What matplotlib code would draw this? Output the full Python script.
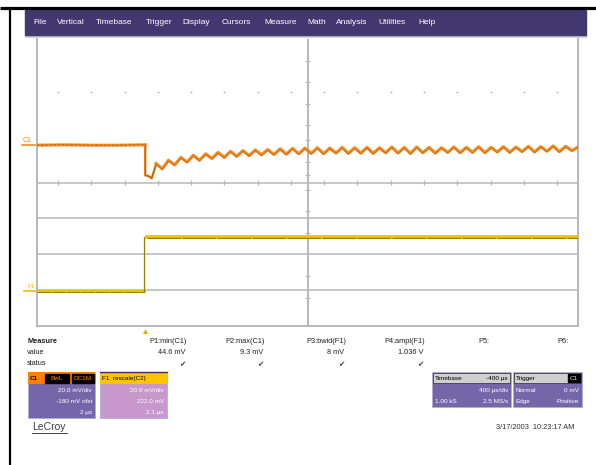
import numpy as np
import matplotlib.pyplot as plt
from matplotlib.patches import Rectangle
from matplotlib import transforms

plt.rcParams['font.family'] = ['Liberation Sans', 'DejaVu Sans']

# -------------------------------
# data (time and volts in divisions)
# -------------------------------
menu_items = ["File", "Vertical", "Timebase", "Trigger", "Display", "Cursors",
              "Measure", "Math", "Analysis", "Utilities", "Help"]
menu_x = [33, 57, 96, 146, 182, 222, 264, 307, 336, 378, 418]

# C1 (orange) before the step
c1_pre_t = [0.0, 0.5, 1.0, 1.5, 2.0]
c1_pre_v = [5.04, 5.05, 5.04, 5.04, 5.05]
# the step and the undershoot
c1_step_t = [2.0, 2.0, 2.06, 2.12, 2.2]
c1_step_v = [5.05, 4.2, 4.18, 4.12, 4.5]
# ripple after the step, peaks and troughs one half period apart
c1_ripple = [4.53, 4.38, 4.62, 4.49, 4.70, 4.57, 4.76, 4.62, 4.80, 4.67,
             4.84, 4.70, 4.87, 4.73, 4.89, 4.75, 4.91, 4.77, 4.92, 4.78,
             4.94, 4.79, 4.95, 4.80, 4.96, 4.81, 4.97, 4.80, 4.96, 4.82,
             4.98, 4.81, 4.97, 4.82, 4.98, 4.81, 4.97, 4.83, 4.99, 4.82,
             4.98, 4.81, 4.99, 4.83, 4.98, 4.82, 4.97, 4.84, 4.99, 4.83,
             4.98, 4.84, 5.00, 4.83, 4.98, 4.85, 5.00, 4.84, 4.99, 4.86,
             5.01, 4.85, 5.00, 4.87, 5.02, 4.86, 5.01, 4.89, 4.99]
c1_ripple_start, c1_ripple_end = 2.2, 10.0

# F1 (yellow)
f1_low_t = [0.0, 1.98]
f1_low_v = [0.98, 0.98]
f1_step_t = [1.98, 1.98]
f1_step_v = [0.98, 2.49]
f1_high_t = [2.03, 10.0]
f1_high_v = [2.49, 2.49]
trigger_t = 2.0

measure_names = ["P1:min(C1)", "P2:max(C1)", "P3:bwid(F1)", "P4:ampl(F1)", "P5:", "P6:"]
measure_values = ["44.6 mV", "9.3 mV", "8 mV", "1.036 V", "", ""]
measure_status = ["\u2714", "\u2714", "\u2714", "\u2714", "", ""]
measure_x = [187, 265, 346, 425, 489, 568]

c1_head = "C1"
c1_rows = ["20.0 mV/div", "-180 mV ofst", "2 \u00b5s"]
f1_head = "F1  rescale(C2)"
f1_rows = ["20.0 mV/div", "222.0 mV", "2.1 \u00b5s"]
tb_head = ["Timebase", "-400 \u00b5s"]
tb_rows = [("", "400 \u00b5s/div"), ("1.00 kS", "2.5 MS/s")]
trig_head = ["Trigger", "C1"]
trig_rows = [("Normal", "0 mV"), ("Edge", "Positive")]
date_text = "3/17/2003  10:23:17 AM"

# -------------------------------
# figure and screen chrome (pixel coordinates)
# -------------------------------
W, H = 596, 465
fig = plt.figure(figsize=(W / 100, H / 100), dpi=100)
fig.patch.set_facecolor("white")
bg = fig.add_axes([0, 0, 1, 1])
bg.set_xlim(0, W)
bg.set_ylim(H, 0)
bg.axis("off")

bg.plot([0, W], [8.5, 8.5], color="black", lw=2.3, solid_capstyle="butt")
bg.plot([10, 10], [8.5, H], color="black", lw=1.6, solid_capstyle="butt")

bg.add_patch(Rectangle((25, 10), 561, 26, color="#42376f"))
bg.plot([25, 586], [36, 36], color="#aaa3cc", lw=0.8)
for name, mx in zip(menu_items, menu_x):
    bg.text(mx, 23, name, color="white", fontsize=6, va="center", ha="left")

# -------------------------------
# scope grid
# -------------------------------
ax = fig.add_axes([37 / W, (H - 326) / H, 541 / W, 287 / H])
ax.set_xlim(0, 10)
ax.set_ylim(0, 8)
ax.set_xticks([])
ax.set_yticks([])
ax.spines["top"].set_visible(False)
for s in ["left", "right", "bottom"]:
    ax.spines[s].set_color("#b8b8b8")
    ax.spines[s].set_linewidth(1.4)

grid_c = "#b8b8b8"
for gy in [1, 2, 3, 4]:
    ax.axhline(gy, color=grid_c, lw=1.1)
ax.axvline(5, color=grid_c, lw=1.4)

dot_x = 0.388 + 0.615 * np.arange(16)
ax.plot(dot_x, np.full(len(dot_x), 6.52), ls="none", marker="s", ms=1.1,
        color="#b0b0b0", mec="none")
ax.vlines(dot_x, 3.94, 4.07, color=grid_c, lw=0.9)
center_ticks = [0.78, 1.39, 2.6, 3.2, 3.8, 4.2, 4.57, 5.18, 5.6, 6.2, 6.8, 7.4]
ax.hlines(center_ticks, 4.95, 5.05, color=grid_c, lw=0.8)

# -------------------------------
# traces
# -------------------------------
orange = "#f68a1e"
brown = "#8c4a0c"
ripple_t = np.linspace(c1_ripple_start, c1_ripple_end, len(c1_ripple))

ax.plot(c1_pre_t, c1_pre_v, color=orange, lw=2.2, zorder=4)
ax.plot(c1_pre_t, c1_pre_v, color=brown, lw=0.6, ls=(0, (3, 2)), alpha=0.7, zorder=5)
ax.plot(c1_step_t, c1_step_v, color=orange, lw=1.8, zorder=4)
ax.plot(c1_step_t, c1_step_v, color=brown, lw=0.6, alpha=0.8, zorder=5)
ax.plot(ripple_t, c1_ripple, color=orange, lw=2.2, zorder=4)
ax.plot(ripple_t, np.array(c1_ripple) - 0.02, color=brown, lw=0.45, alpha=0.55, zorder=5)

yellow = "#efbd00"
olive = "#9a7c00"
ax.plot(f1_low_t, f1_low_v, color=yellow, lw=2.2, zorder=4)
ax.plot(f1_low_t, np.array(f1_low_v) - 0.02, color=olive, lw=0.7, ls=(0, (14, 1)), zorder=5)
ax.plot(f1_step_t, f1_step_v, color=olive, lw=0.9, zorder=4)
ax.plot(f1_high_t, f1_high_v, color=yellow, lw=2.6, zorder=4)
ax.plot(f1_high_t, np.array(f1_high_v) - 0.03, color=olive, lw=0.8, ls=(0, (30, 1.5)), zorder=5)

ax.plot([trigger_t], [-0.14], marker="^", ms=3.5, color="#f0a800", mec="none", clip_on=False)

# trace labels left of the grid
lab = transforms.blended_transform_factory(fig.transFigure, ax.transData)
ax.text(23 / W, 5.08, "C1", transform=lab, color=orange, fontsize=5, va="bottom", ha="left")
ax.plot([22 / W, 37 / W], [c1_pre_v[0]] * 2, transform=lab, color=orange, lw=1.2, clip_on=False)
ax.text(27 / W, 1.02, "F1", transform=lab, color=yellow, fontsize=4.5, va="bottom", ha="left")
ax.plot([24 / W, 37 / W], [f1_low_v[0]] * 2, transform=lab, color=yellow, lw=1.2, clip_on=False)

# -------------------------------
# measurement table
# -------------------------------
fs = 5.3
bg.text(27, 341, "Measure", fontsize=fs, va="center", fontweight="bold", color="#202020")
bg.text(27, 352, "value", fontsize=fs, va="center", color="#202020")
bg.text(27, 363, "status", fontsize=fs, va="center", color="#202020")
for name, val, st, mx in zip(measure_names, measure_values, measure_status, measure_x):
    bg.text(mx, 341, name, fontsize=fs, va="center", ha="right", color="#202020")
    bg.text(mx - 2, 352, val, fontsize=fs, va="center", ha="right", color="#202020")
    bg.text(mx - 5, 364, st, fontsize=5.5, va="center", ha="center", color="#505050",
            family="DejaVu Sans")

# -------------------------------
# descriptor boxes
# -------------------------------
purple = "#7467a9"
pfs = 4.6


def channel_box(x0, w, head_color, body_color, rows):
    bg.add_patch(Rectangle((x0, 372), w, 46, facecolor=body_color, edgecolor="#b5acd6", lw=0.6))
    bg.add_patch(Rectangle((x0, 372), w, 12, facecolor=head_color, edgecolor="none"))
    for i, r in enumerate(rows):
        bg.text(x0 + w - 3, 390 + i * 11, r, fontsize=pfs, color="white", va="center", ha="right")


channel_box(28, 67, "#ff8000", purple, c1_rows)
bg.text(30, 378, c1_head, fontsize=pfs, va="center", color="black", fontweight="bold")
bg.add_patch(Rectangle((45, 373.5), 24, 9, color="black"))
bg.text(57, 378, "BwL", fontsize=pfs, va="center", ha="center", color="#ff8000")
bg.add_patch(Rectangle((72, 373.5), 22, 9, color="black"))
bg.text(83, 378, "DC1M", fontsize=pfs, va="center", ha="center", color="#ff8000")

channel_box(100, 67, "#ffc400", "#c898cc", f1_rows)
bg.plot([100, 167], [372, 372], color="#3a2f60", lw=1)
bg.text(102, 378, f1_head, fontsize=pfs, va="center", color="black")


def info_box(x0, w, head, rows, chip=False):
    bg.add_patch(Rectangle((x0, 372), w, 35, facecolor=purple, edgecolor="#b5acd6", lw=0.6))
    bg.add_patch(Rectangle((x0 + 1, 373), w - 2, 10, facecolor="#cfcfcf", edgecolor="#404040", lw=0.6))
    bg.text(x0 + 3, 378, head[0], fontsize=pfs, va="center", color="black")
    if chip:
        bg.add_patch(Rectangle((x0 + w - 14, 374), 12, 8, color="black"))
        bg.text(x0 + w - 8, 378, head[1], fontsize=pfs, va="center", ha="center", color="#d8d8d8")
    else:
        bg.text(x0 + w - 3, 378, head[1], fontsize=pfs, va="center", ha="right", color="black")
    for i, (left, right) in enumerate(rows):
        bg.text(x0 + 3, 390 + i * 11, left, fontsize=pfs, color="white", va="center")
        bg.text(x0 + w - 3, 390 + i * 11, right, fontsize=pfs, color="white", va="center", ha="right")


info_box(432, 79, tb_head, tb_rows)
info_box(513, 69, trig_head, trig_rows, chip=True)

# -------------------------------
# footer
# -------------------------------
bg.text(32, 427, "LeCroy", fontsize=7.5, va="center", color="#404040")
bg.plot([32, 67], [432.5, 432.5], color="#404040", lw=0.7)
bg.text(574, 427, date_text, fontsize=fs, va="center", ha="right", color="#303030")

fig.savefig("out.png", dpi=100)
